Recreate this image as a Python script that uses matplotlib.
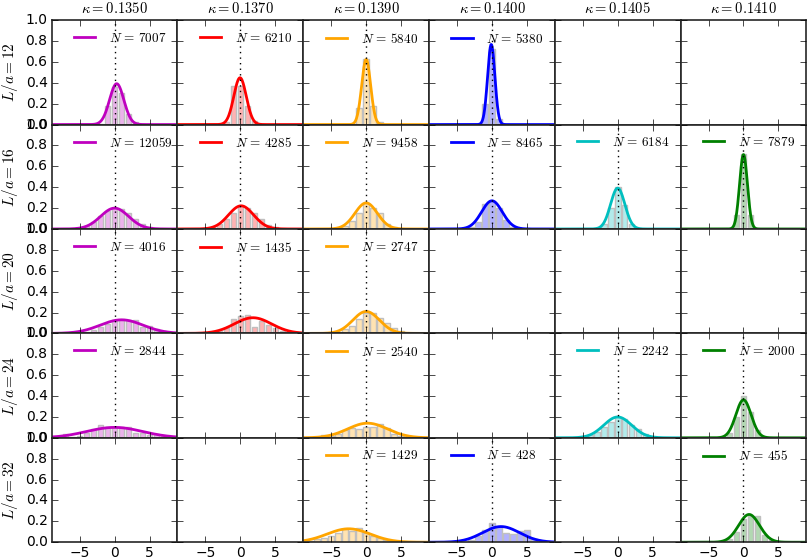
import numpy as np
import matplotlib
matplotlib.use("Agg")
import matplotlib.pyplot as plt

plt.style.use("classic")
plt.rcParams["mathtext.fontset"] = "cm"
plt.rcParams["font.size"] = 10
plt.rcParams["xtick.major.pad"] = 2.5
plt.rcParams["ytick.major.pad"] = 3
plt.rcParams["axes.linewidth"] = 1.2
plt.rcParams["axes.edgecolor"] = "0.15"

kappas = ["0.1350", "0.1370", "0.1390", "0.1400", "0.1405", "0.1410"]
sizes = [12, 16, 20, 24, 32]
colors = ["m", "r", "orange", "b", "c", "g"]

# (row, col) -> values; missing panels are empty
counts = {
    (0, 0): 7007, (0, 1): 6210, (0, 2): 5840, (0, 3): 5380,
    (1, 0): 12059, (1, 1): 4285, (1, 2): 9458, (1, 3): 8465, (1, 4): 6184, (1, 5): 7879,
    (2, 0): 4016, (2, 1): 1435, (2, 2): 2747,
    (3, 0): 2844, (3, 2): 2540, (3, 4): 2242, (3, 5): 2000,
    (4, 2): 1429, (4, 3): 428, (4, 5): 455,
}
fit_mu = {
    (0, 0): 0.3, (0, 1): -0.05, (0, 2): 0.0, (0, 3): -0.1,
    (1, 0): 0.0, (1, 1): 0.1, (1, 2): 0.0, (1, 3): 0.0, (1, 4): 0.0, (1, 5): 0.0,
    (2, 0): 1.0, (2, 1): 1.8, (2, 2): 0.0,
    (3, 0): 0.0, (3, 2): 0.2, (3, 4): 0.0, (3, 5): 0.0,
    (4, 2): -2.5, (4, 3): 1.3, (4, 5): 0.8,
}
fit_sigma = {
    (0, 0): 1.02, (0, 1): 0.89, (0, 2): 0.64, (0, 3): 0.52,
    (1, 0): 2.0, (1, 1): 1.8, (1, 2): 1.6, (1, 3): 1.48, (1, 4): 1.02, (1, 5): 0.56,
    (2, 0): 3.07, (2, 1): 2.66, (2, 2): 1.9,
    (3, 0): 4.0, (3, 2): 2.85, (3, 4): 2.0, (3, 5): 1.1,
    (4, 2): 3.1, (4, 3): 2.66, (4, 5): 1.5,
}
# first bin centre and bin heights (bin width 1)
hist_start = {
    (0, 0): -2, (0, 1): -2, (0, 2): -2, (0, 3): -2,
    (1, 0): -5, (1, 1): -4, (1, 2): -4, (1, 3): -3, (1, 4): -3, (1, 5): -1,
    (2, 0): -4, (2, 1): -3, (2, 2): -4,
    (3, 0): -7, (3, 2): -7, (3, 4): -5, (3, 5): -2,
    (4, 2): -8, (4, 3): -3, (4, 5): -3,
}
hist_heights = {
    (0, 0): [0.01, 0.18, 0.36, 0.30, 0.10, 0.02],
    (0, 1): [0.02, 0.37, 0.37, 0.18, 0.03],
    (0, 2): [0.01, 0.16, 0.63, 0.18, 0.02],
    (0, 3): [0.01, 0.20, 0.72, 0.05, 0.01],
    (1, 0): [0.01, 0.03, 0.07, 0.12, 0.17, 0.20, 0.19, 0.15, 0.10, 0.05, 0.02],
    (1, 1): [0.02, 0.05, 0.10, 0.15, 0.22, 0.20, 0.15, 0.10, 0.04, 0.02],
    (1, 2): [0.01, 0.03, 0.08, 0.15, 0.25, 0.20, 0.15, 0.05, 0.02],
    (1, 3): [0.02, 0.07, 0.24, 0.27, 0.20, 0.09, 0.02],
    (1, 4): [0.01, 0.05, 0.20, 0.40, 0.23, 0.05, 0.01],
    (1, 5): [0.13, 0.72, 0.13],
    (2, 0): [0.01, 0.03, 0.06, 0.09, 0.13, 0.13, 0.13, 0.13, 0.06, 0.07, 0.04, 0.02],
    (2, 1): [0.02, 0.05, 0.14, 0.17, 0.18, 0.06, 0.12, 0.08, 0.05, 0.02],
    (2, 2): [0.01, 0.04, 0.07, 0.14, 0.20, 0.20, 0.15, 0.10, 0.05, 0.02],
    (3, 0): [0.04, 0.01, 0.02, 0.05, 0.08, 0.12, 0.10, 0.10, 0.10, 0.10, 0.05, 0.05, 0.03, 0.04, 0.02],
    (3, 2): [0.01, 0.03, 0.02, 0.04, 0.07, 0.09, 0.08, 0.10, 0.10, 0.13, 0.09, 0.04, 0.02, 0.01],
    (3, 4): [0.01, 0.03, 0.06, 0.10, 0.15, 0.20, 0.18, 0.12, 0.08, 0.04, 0.01],
    (3, 5): [0.05, 0.20, 0.40, 0.25, 0.07],
    (4, 2): [0.01, 0.03, 0.04, 0.06, 0.09, 0.13, 0.11, 0.14, 0.09, 0.06, 0.04, 0.02, 0.01],
    (4, 3): [0.02, 0.06, 0.12, 0.18, 0.15, 0.09, 0.08, 0.11, 0.12, 0.03],
    (4, 5): [0.01, 0.03, 0.10, 0.22, 0.25, 0.25, 0.07, 0.02],
}

fig, axes = plt.subplots(5, 6, sharex="all", sharey="all", figsize=(8.08, 5.59), dpi=100)
fig.subplots_adjust(left=0.064, right=0.998, top=0.964, bottom=0.030, wspace=0, hspace=0)

x = np.linspace(-9, 9, 400)
for i, L in enumerate(sizes):
    for j, kap in enumerate(kappas):
        ax = axes[i, j]
        key = (i, j)
        if key in counts:
            c = colors[j]
            h = hist_heights[key]
            centres = hist_start[key] + np.arange(len(h))
            ax.bar(centres, h, width=0.8, align="center",
                   color=matplotlib.colors.to_rgba(c, 0.3), edgecolor="0.75", linewidth=1)
            mu, sg = fit_mu[key], fit_sigma[key]
            y = np.exp(-0.5 * ((x - mu) / sg) ** 2) / (np.sqrt(2 * np.pi) * sg)
            ax.plot(x, y, color=c, lw=2, label=rf"$N\,=\,{counts[key]}$")
            ax.axvline(0, color="k", ls=":", lw=1)
            ax.legend(loc="upper left", bbox_to_anchor=(0.105, 0.94), borderaxespad=0,
                      frameon=False, fontsize=9.5, handlelength=2.2, handletextpad=0.75)
        if i == 0:
            ax.set_title(rf"$\kappa={kap}$", fontsize=10.5)
        if j == 0:
            ax.set_ylabel(f"$L/a={L}$", fontsize=11)
            ax.yaxis.set_label_coords(-0.255, 0.5)

axes[0, 0].set_xlim(-9, 9)
axes[0, 0].set_ylim(0, 1)
axes[0, 0].set_xticks([-5, 0, 5])
axes[0, 0].set_yticks(np.arange(0, 1.01, 0.2))

fig.savefig("out.png", dpi=100)
